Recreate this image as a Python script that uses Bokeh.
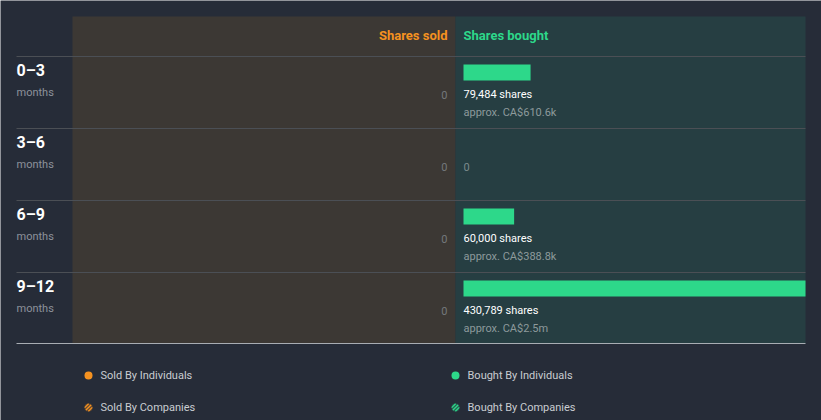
import numpy as np
from bokeh.plotting import figure
from bokeh.models import Range1d, ColumnDataSource
from bokeh.core.properties import value
from bokeh.embed import file_html
from bokeh.resources import INLINE

# ---- data ----
periods = ["0\u20133", "3\u20136", "6\u20139", "9\u201312"]
period_unit = ["months", "months", "months", "months"]
shares_sold = [0, 0, 0, 0]
shares_bought = [79484, 0, 60000, 430789]
bought_value = ["approx. CA$610.6k", "", "approx. CA$388.8k", "approx. CA$2.5m"]
legend_labels = ["Sold By Individuals", "Bought By Individuals", "Sold By Companies", "Bought By Companies"]

# ---- layout constants (pixel geometry) ----
W, H = 821, 420
K = 1185.0            # shares per pixel
X0 = 463              # pixel of zero shares
ROW_TOP = 56          # pixel of first row top
ROW_H = 72            # pixel height per row

def px(x):
    return (x - X0) * K

def py(y):
    return (y - ROW_TOP) / ROW_H

BG = "#262c38"
SOLD_BG = "#3c3834"
BOUGHT_BG = "#263e42"
GREEN = "#2dd88a"
ORANGE = "#f59220"
FONT = value("Roboto")

p = figure(width=W, height=H, output_backend="svg", toolbar_location=None,
           x_range=Range1d(px(0), px(W)), y_range=Range1d(py(H), py(0)),
           min_border=0, border_fill_color=BG, background_fill_color=BG)
p.xaxis.visible = False
p.yaxis.visible = False
p.grid.visible = False
p.outline_line_color = None

n = len(periods)
rows = np.arange(n)

# panels
p.quad(left=[px(72)], right=[px(455)], top=[py(16)], bottom=[py(343)], fill_color=SOLD_BG, line_color=None)
p.quad(left=[px(455)], right=[px(805)], top=[py(16)], bottom=[py(343)], fill_color=BOUGHT_BG, line_color=None)

# row separators
p.segment(x0=[px(16)] * n, x1=[px(805)] * n, y0=list(rows), y1=list(rows), line_color="#4b4f55", line_width=1)
p.segment(x0=[px(16)], x1=[px(805)], y0=[py(343)], y1=[py(343)], line_color="#a8adb3", line_width=1)

# header
p.text(x=[px(447)], y=[py(35)], text=["Shares sold"], text_color=ORANGE, text_font=FONT,
       text_font_size="13px", text_font_style="bold", text_align="right", text_baseline="middle")
p.text(x=[px(463)], y=[py(35)], text=["Shares bought"], text_color=GREEN, text_font=FONT,
       text_font_size="13px", text_font_style="bold", text_align="left", text_baseline="middle")

# row labels
p.text(x=[px(16)] * n, y=list(rows), text=periods, y_offset=14, text_color="#ffffff", text_font=FONT,
       text_font_size="16px", text_font_style="bold", text_align="left", text_baseline="middle")
p.text(x=[px(16)] * n, y=list(rows), text=period_unit, y_offset=36, text_color="#8d929b", text_font=FONT,
       text_font_size="11px", text_align="left", text_baseline="middle")

# sold values (all zero)
p.text(x=[px(447)] * n, y=list(rows), text=[f"{v:,}" for v in shares_sold], y_offset=38, text_color="#74787c",
       text_font=FONT, text_font_size="11px", text_align="right", text_baseline="middle")

# bought bars
cap = px(805)
b = np.array(shares_bought, dtype=float)
has = b > 0
bars = ColumnDataSource(dict(left=np.zeros(has.sum()), right=np.minimum(b[has], cap),
                             top=rows[has] + 8 / ROW_H, bottom=rows[has] + 24 / ROW_H))
p.quad(left="left", right="right", top="top", bottom="bottom", source=bars, fill_color=GREEN, line_color=None)

bought_txt = [f"{int(v):,} shares" if v > 0 else "0" for v in shares_bought]
bought_col = ["#ffffff" if v > 0 else "#7c8a8c" for v in shares_bought]
p.text(x=[0] * n, y=list(rows), text=bought_txt, y_offset=38, text_color=bought_col, text_font=FONT,
       text_font_size="11px", text_align="left", text_baseline="middle")
p.text(x=[0] * n, y=list(rows), text=bought_value, y_offset=56, text_color="#8d9a9c", text_font=FONT,
       text_font_size="11px", text_align="left", text_baseline="middle")

# legend
LPX = [88, 455, 88, 455]
LPY = [375, 375, 407, 407]
lx = [px(v) for v in LPX]
ly = [py(v) for v in LPY]
p.scatter(x=lx[:2], y=ly[:2], size=8, fill_color=[ORANGE, GREEN], line_color=None)
p.scatter(x=lx[2:], y=ly[2:], size=8, fill_color=[ORANGE, GREEN], fill_alpha=0.3, line_color=None)
# diagonal stripes inside the hatched dots
r = 4.0
sx0, sy0, sx1, sy1, sc = [], [], [], [], []
for cx, cy, col in [(LPX[2], LPY[2], ORANGE), (LPX[3], LPY[3], GREEN)]:
    for d in (-2.6, 0.0, 2.6):
        half = np.sqrt(r * r - d * d) * 0.9
        ox, oy = cx + d / np.sqrt(2), cy + d / np.sqrt(2)
        dx = half / np.sqrt(2)
        sx0.append(px(ox - dx)); sy0.append(py(oy + dx))
        sx1.append(px(ox + dx)); sy1.append(py(oy - dx))
        sc.append(col)
p.segment(x0=sx0, y0=sy0, x1=sx1, y1=sy1, line_color=sc, line_width=1.3)

p.text(x=lx, y=ly, text=legend_labels, x_offset=12, text_color="#c9ccd1", text_font=FONT,
       text_font_size="11px", text_align="left", text_baseline="middle")

open("out.html", "w").write(file_html(p, INLINE))
